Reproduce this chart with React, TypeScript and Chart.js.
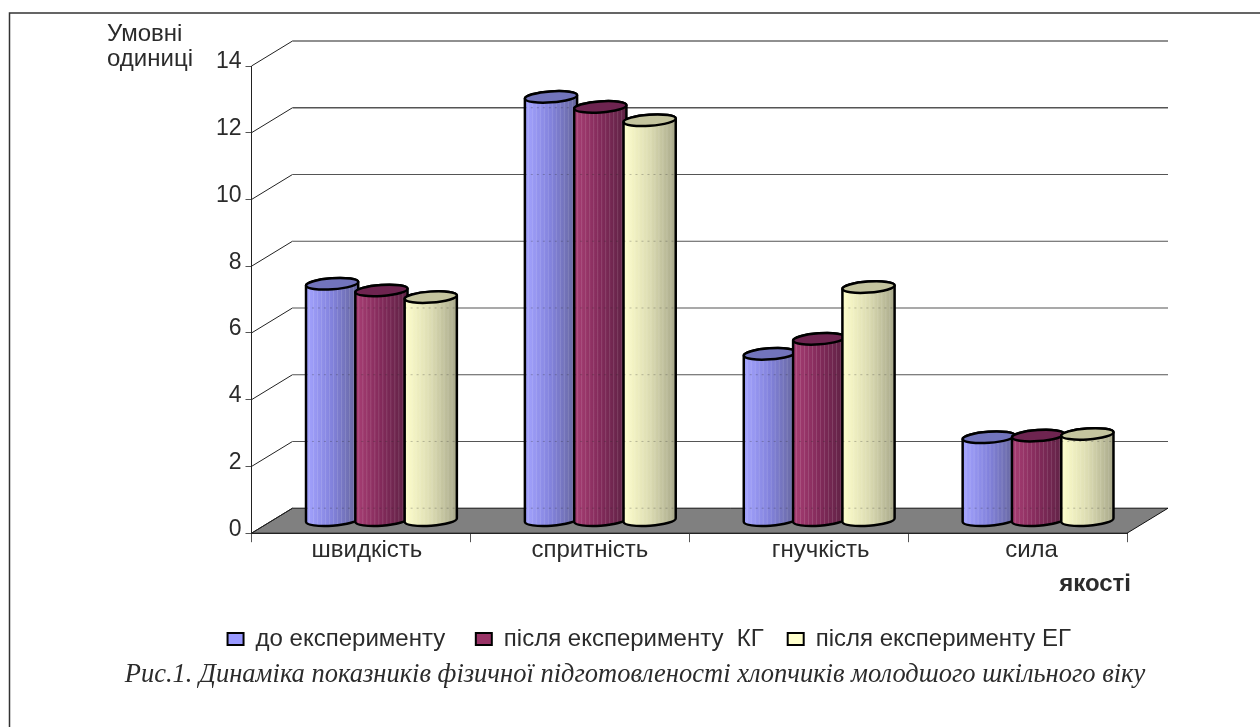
import React, { useEffect, useRef } from "react";
import { Chart, registerables } from "chart.js";

Chart.register(...registerables);

// Chart values
const categories = ["швидкість", "спритність", "гнучкість", "сила"];
const seriesNames = ["до експерименту ", "після експерименту  КГ", "після експерименту ЕГ"];
const beforeValues = [7.1, 12.7, 5.0, 2.5];
const afterControlValues = [6.9, 12.4, 5.45, 2.55];
const afterExperimentValues = [6.7, 12.0, 7.0, 2.6];
const yTicks = [0, 2, 4, 6, 8, 10, 12, 14];
const yAxisTitle = ["Умовні", "одиниці"];
const xAxisTitle = "якості";
const caption = "Рис.1. Динаміка показників фізичної підготовленості хлопчиків молодшого шкільного віку";

// Colours of each cylinder: body gradient (left, middle, right) and top cap
const palettes = [
  { swatch: "#9999ff", stops: ["#a4a4ff", "#8282dc", "#66669c"], cap: "#7274bc" },
  { swatch: "#993366", stops: ["#a83e74", "#822a5a", "#5e2244"], cap: "#6e2450" },
  { swatch: "#ffffcc", stops: ["#ffffcc", "#dcdcb2", "#a8a88a"], cap: "#c4c49e" },
];

const SANS = "'Liberation Sans', Arial, sans-serif";
const INK = "#2b2b2b";

// Perspective of the 3-D box: the back wall sits this far from the front plane
const DEPTH_X = 41;
const DEPTH_Y = -25;
const CAP_RY = 5.5;
const CAP_TILT = -0.07;
const LEGEND_SHIFT_X = -15;
const LEGEND_CENTER_Y = 632;
const CAPTION_CENTER_X = 635;
const CAPTION_CENTER_Y = 675;
const CAPTION_BOX_WIDTH = 1200;
const categoryLabelShift = [6, 10, 22, 14];

const boxPlugin = {
  id: "boxWalls",
  afterLayout(chart: any) {
    // Labels sit a little right of their category centres
    const x = chart.scales.x;
    x.getLabelItems().forEach((item: any, i: number) => {
      item.options.translation[0] += categoryLabelShift[i] ?? 0;
    });
    const legend = chart.legend;
    legend.left += LEGEND_SHIFT_X;
    legend.right += LEGEND_SHIFT_X;
    const lh = legend.height;
    legend.top = LEGEND_CENTER_Y - lh / 2;
    legend.bottom = legend.top + lh;
    // The caption runs wider than the plot, so its box is widened to keep the text unsqueezed
    const title = chart.titleBlock;
    title.left = CAPTION_CENTER_X - CAPTION_BOX_WIDTH / 2;
    title.right = title.left + CAPTION_BOX_WIDTH;
    const th = title.height;
    title.top = CAPTION_CENTER_Y - th / 2;
    title.bottom = title.top + th;
  },
  beforeDraw(chart: any) {
    const { ctx, chartArea: a, scales } = chart;
    const y = scales.y;
    ctx.save();
    // Sheet frame, open on the right and at the bottom
    ctx.strokeStyle = "#333";
    ctx.lineWidth = 1.5;
    ctx.beginPath();
    ctx.moveTo(9.5, chart.height);
    ctx.lineTo(9.5, 13);
    ctx.lineTo(chart.width, 13);
    ctx.stroke();

    // Floor
    ctx.fillStyle = "#808080";
    ctx.beginPath();
    ctx.moveTo(a.left, a.bottom);
    ctx.lineTo(a.left + DEPTH_X, a.bottom + DEPTH_Y);
    ctx.lineTo(a.right + DEPTH_X, a.bottom + DEPTH_Y);
    ctx.lineTo(a.right, a.bottom);
    ctx.closePath();
    ctx.fill();
    ctx.strokeStyle = "#111";
    ctx.lineWidth = 1;
    ctx.stroke();

    // Side-wall diagonals and back-wall grid lines
    yTicks.forEach((v) => {
      const py = y.getPixelForValue(v);
      ctx.strokeStyle = "#222";
      ctx.lineWidth = 1;
      ctx.beginPath();
      ctx.moveTo(a.left, py);
      ctx.lineTo(a.left + DEPTH_X, py + DEPTH_Y);
      ctx.stroke();
      if (v > 0) {
        ctx.strokeStyle = v === 14 ? "#222" : "#555";
        ctx.lineWidth = v === 12 ? 1.4 : 1.1;
        ctx.beginPath();
        ctx.moveTo(a.left + DEPTH_X, py + DEPTH_Y);
        ctx.lineTo(a.right + DEPTH_X, py + DEPTH_Y);
        ctx.stroke();
      }
    });
    ctx.restore();
  },
  beforeDatasetsDraw(chart: any) {
    const { ctx, scales } = chart;
    const y = scales.y;
    chart.data.datasets.forEach((_: any, di: number) => {
      const pal = palettes[di];
      chart.getDatasetMeta(di).data.forEach((bar: any) => {
        const cx = bar.x + DEPTH_X / 2;
        const topY = bar.y + DEPTH_Y / 2;
        const baseY = bar.base + DEPTH_Y / 2;
        const rx = bar.width / 2 + 1.5;
        const left = cx - rx;

        ctx.save();
        const outline = new Path2D();
        outline.ellipse(cx, baseY, rx, CAP_RY, CAP_TILT, Math.PI, 0, true);
        outline.ellipse(cx, topY, rx, CAP_RY, CAP_TILT, 0, Math.PI, true);
        outline.closePath();

        const grad = ctx.createLinearGradient(left, 0, left + rx * 2, 0);
        grad.addColorStop(0, pal.stops[0]);
        grad.addColorStop(0.5, pal.stops[1]);
        grad.addColorStop(1, pal.stops[2]);
        ctx.fillStyle = grad;
        ctx.fill(outline);

        // Banded shading and the faint wall lines that show through the body
        ctx.save();
        ctx.clip(outline);
        ctx.fillStyle = "rgba(255,255,255,0.13)";
        for (let sx = 3; sx < rx * 2; sx += 4) {
          ctx.fillRect(left + sx, topY, 1, baseY - topY + CAP_RY);
        }
        ctx.strokeStyle = "rgba(40,40,40,0.28)";
        ctx.lineWidth = 1;
        ctx.setLineDash([2, 4]);
        yTicks.forEach((v) => {
          const py = y.getPixelForValue(v) + DEPTH_Y;
          if (py > topY + CAP_RY) {
            ctx.beginPath();
            ctx.moveTo(left, py);
            ctx.lineTo(left + rx * 2, py);
            ctx.stroke();
          }
        });
        ctx.restore();

        ctx.strokeStyle = "#000";
        ctx.lineWidth = 2.5;
        ctx.stroke(outline);

        ctx.beginPath();
        ctx.ellipse(cx, topY, rx, CAP_RY, CAP_TILT, 0, Math.PI * 2);
        ctx.fillStyle = pal.cap;
        ctx.fill();
        ctx.stroke();
        ctx.restore();
      });
    });
    return false; // cylinders replace the flat bars
  },
  afterDraw(chart: any) {
    const { ctx } = chart;
    ctx.save();
    ctx.fillStyle = INK;
    ctx.textAlign = "left";
    ctx.textBaseline = "alphabetic";
    ctx.font = `24px ${SANS}`;
    ctx.fillText(yAxisTitle[0], 107, 41);
    ctx.fillText(yAxisTitle[1], 107, 66);
    ctx.textAlign = "right";
    ctx.font = `bold 24px ${SANS}`;
    ctx.fillText(xAxisTitle, 1131, 591);
    ctx.restore();
  },
};

export default function App() {
  const ref = useRef<HTMLCanvasElement>(null);

  useEffect(() => {
    const seriesValues = [beforeValues, afterControlValues, afterExperimentValues];
    const chart = new Chart(ref.current!, {
      type: "bar",
      data: {
        labels: categories,
        datasets: seriesNames.map((name, i) => ({
          label: name,
          data: seriesValues[i],
          backgroundColor: palettes[i].swatch,
          borderColor: "#000",
          borderWidth: 2,
          categoryPercentage: 0.676,
          barPercentage: 1,
        })),
      },
      options: {
        animation: false,
        responsive: false,
        layout: { padding: { left: 201.5, right: 133, top: 66, bottom: 0 } },
        scales: {
          x: {
            grid: { drawOnChartArea: false, tickLength: 9, color: "#555", tickColor: "#555" },
            border: { color: "#222" },
            ticks: { color: INK, font: { size: 24, family: SANS }, padding: -6, maxRotation: 0 },
            afterFit(scale: any) {
              scale.height = 104;
            },
          },
          y: {
            min: 0,
            max: 14,
            grid: { drawOnChartArea: false, tickLength: 6, color: "#555", tickColor: "#555" },
            border: { color: "#222" },
            ticks: {
              stepSize: 2,
              color: INK,
              font: { size: 23, family: SANS },
              padding: 4,
              labelOffset: -4,
            },
            afterFit(scale: any) {
              scale.width = 50;
            },
          },
        },
        plugins: {
          tooltip: { enabled: false },
          legend: {
            position: "bottom",
            labels: {
              color: INK,
              font: { size: 24, family: SANS },
              boxWidth: 16,
              boxHeight: 12,
              padding: 24,
            },
          },
          title: {
            display: true,
            position: "bottom",
            text: caption,
            color: INK,
            font: { size: 26.5, style: "italic", weight: "normal", family: "'Liberation Serif', serif" },
            padding: 0,
          },
        },
      } as any,
      plugins: [boxPlugin],
    });
    return () => chart.destroy();
  }, []);

  return (
    <canvas
      ref={ref}
      width={1260}
      height={727}
      style={{ position: "fixed", left: 0, top: 0, display: "block", background: "#fff" }}
    />
  );
}
